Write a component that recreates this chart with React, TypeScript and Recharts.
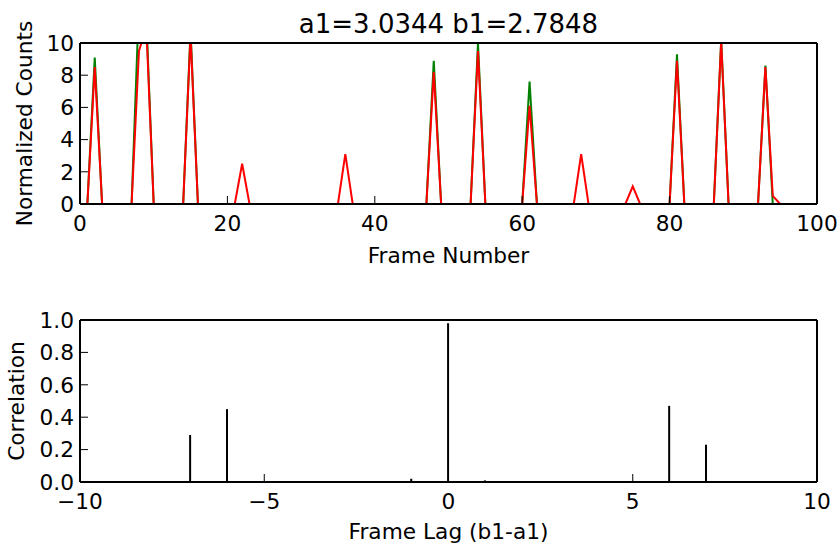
import React from 'react';
import { ComposedChart, Line, Bar, XAxis, YAxis, ReferenceLine } from 'recharts';

// top panel: key frames only, the trace is flat zero between them
const frames = [1, 2, 3, 7, 8, 9, 10, 14, 15, 16, 21, 22, 23, 35, 36, 37, 47, 48, 49, 53, 54, 55, 60, 61, 62, 67, 68, 69, 74, 75, 76, 80, 81, 82, 86, 87, 88, 92, 93, 94, 95, 99];
const greenCounts = [0, 9.1, 0, 0, 12.5, 11.5, 0, 0, 10.8, 0, 0, 0, 0, 0, 0, 0, 0, 8.9, 0, 0, 10.0, 0, 0, 7.6, 0, 0, 0, 0, 0, 0, 0, 0, 9.3, 0, 0, 10.2, 0, 0, 8.6, 0, 0, 0];
const redCounts = [0, 8.5, 0, 0, 9.5, 11.0, 0, 0, 10.5, 0, 0, 2.5, 0, 0, 3.1, 0, 0, 8.2, 0, 0, 9.5, 0, 0, 6.1, 0, 0, 3.1, 0, 0, 1.1, 0, 0, 8.9, 0, 0, 10.1, 0, 0, 8.5, 0.5, 0, 0];
const frameTicks = [0, 20, 40, 60, 80, 100];
const countTicks = [0, 2, 4, 6, 8, 10];

// bottom panel: cross-correlation stems
const lags = [-10, -7, -6, -1, 0, 1, 6, 7, 10];
const corr = [0, 0.29, 0.45, 0.02, 0.98, 0.01, 0.47, 0.23, 0];
const lagTicks = [-10, -5, 0, 5, 10];
const corrTicks = [0, 0.2, 0.4, 0.6, 0.8, 1.0];

const FONT = 'DejaVu Sans';
const tickStyle = { fontFamily: FONT, fontSize: 21.7, fill: '#000' };
const frameStyle = { stroke: '#000', strokeWidth: 2 };
const tickLineStyle = { stroke: '#000', strokeWidth: 1 };

const countData = frames.map((f, i) => ({ frame: f, green: greenCounts[i], red: redCounts[i] }));
const corrData = lags.map((l, i) => ({ lag: l, corr: corr[i] }));

const minus = (v: number) => String(v).replace('-', '\u2212');

export default function App() {
  return (
    <div style={{ position: 'absolute', left: 0, top: 0, width: 839, height: 545, background: '#fff' }}>
      <ComposedChart
        width={839}
        height={270}
        data={countData}
        margin={{ top: 42, right: 21, bottom: 6, left: 0 }}
        style={{ fontFamily: FONT }}
      >
        <XAxis
          dataKey="frame"
          type="number"
          domain={[0, 100]}
          ticks={frameTicks}
          allowDataOverflow
          height={60}
          tick={tickStyle}
          tickSize={-8}
          tickMargin={20}
          axisLine={frameStyle}
          tickLine={tickLineStyle}
          label={{ value: 'Frame Number', position: 'insideBottom', offset: 1, fontSize: 21.7, fill: '#000', fontFamily: FONT }}
        />
        <XAxis
          xAxisId="top"
          orientation="top"
          type="number"
          domain={[0, 100]}
          ticks={frameTicks}
          height={1}
          tick={false}
          tickSize={-8}
          axisLine={frameStyle}
          tickLine={tickLineStyle}
          label={{ value: 'a1=3.0344 b1=2.7848', position: 'top', offset: 9, fontSize: 26, fill: '#000', fontFamily: FONT }}
        />
        <YAxis
          type="number"
          domain={[0, 10]}
          ticks={countTicks}
          allowDataOverflow
          width={80}
          tick={tickStyle}
          tickSize={-8}
          tickMargin={14}
          axisLine={frameStyle}
          tickLine={tickLineStyle}
          label={{ value: 'Normalized Counts', angle: -90, position: 'insideLeft', offset: 24, fontSize: 21.7, fill: '#000', fontFamily: FONT, style: { textAnchor: 'middle' } }}
        />
        <YAxis
          yAxisId="right"
          orientation="right"
          type="number"
          domain={[0, 10]}
          ticks={countTicks}
          width={1}
          tick={false}
          tickSize={-8}
          axisLine={frameStyle}
          tickLine={tickLineStyle}
        />
        <Line type="linear" dataKey="green" stroke="#008000" strokeWidth={2} dot={false} isAnimationActive={false} />
        <Line type="linear" dataKey="red" stroke="#ff0000" strokeWidth={2} dot={false} isAnimationActive={false} />
      </ComposedChart>

      <ComposedChart
        width={839}
        height={275}
        data={corrData}
        margin={{ top: 49, right: 21, bottom: 3, left: 0 }}
        style={{ fontFamily: FONT }}
      >
        <XAxis
          dataKey="lag"
          type="number"
          domain={[-10, 10]}
          ticks={lagTicks}
          tickFormatter={minus}
          height={60}
          tick={tickStyle}
          tickSize={-8}
          tickMargin={20}
          axisLine={frameStyle}
          tickLine={tickLineStyle}
          label={{ value: 'Frame Lag (b1-a1)', position: 'insideBottom', offset: 3.5, fontSize: 21.7, fill: '#000', fontFamily: FONT }}
        />
        <XAxis
          xAxisId="top"
          orientation="top"
          type="number"
          domain={[-10, 10]}
          ticks={lagTicks}
          height={1}
          tick={false}
          tickSize={-8}
          axisLine={frameStyle}
          tickLine={tickLineStyle}
        />
        <YAxis
          type="number"
          domain={[0, 1]}
          ticks={corrTicks}
          tickFormatter={(v: number) => v.toFixed(1)}
          width={80}
          tick={tickStyle}
          tickSize={-8}
          tickMargin={14}
          axisLine={frameStyle}
          tickLine={tickLineStyle}
          label={{ value: 'Correlation', angle: -90, position: 'insideLeft', offset: 16, fontSize: 21.7, fill: '#000', fontFamily: FONT, style: { textAnchor: 'middle' } }}
        />
        <YAxis
          yAxisId="right"
          orientation="right"
          type="number"
          domain={[0, 1]}
          ticks={corrTicks}
          width={1}
          tick={false}
          tickSize={-8}
          axisLine={frameStyle}
          tickLine={tickLineStyle}
        />
        <ReferenceLine y={0} stroke="#3040c0" strokeWidth={1} />
        <Bar dataKey="corr" fill="#000" barSize={2} isAnimationActive={false} />
      </ComposedChart>
    </div>
  );
}
